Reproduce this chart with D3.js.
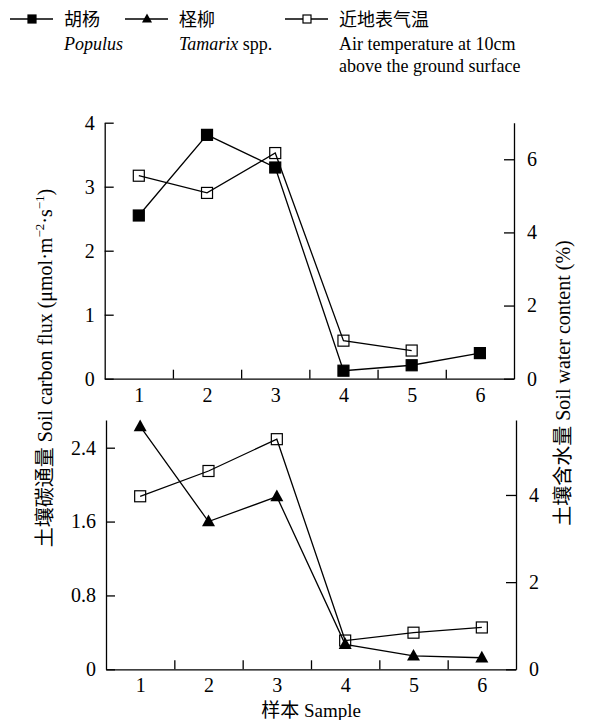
<!DOCTYPE html>
<html>
<head>
<meta charset="utf-8">
<script src="https://cdn.jsdelivr.net/npm/d3@7"></script>
<style>
body { margin: 0; background: #fff; }
text { font-family: "Liberation Serif", "Noto Sans CJK SC", serif; fill: #000; }
.axis path, .axis line { stroke: #000; stroke-width: 1.3; }
.axis text { font-size: 20px; font-family: "Liberation Serif", serif; }
</style>
</head>
<body>
<div id="chart"></div>
<script>
var width = 613;
var height = 720;

// samples 1..6
var samples = [1, 2, 3, 4, 5, 6];

// top panel
var populusFlux = [2.55, 3.81, 3.30, 0.125, 0.21, 0.40];
var topWater = [5.55, 5.08, 6.17, 1.04, 0.77];
var topLeftTicks = [0, 1, 2, 3, 4];
var topRightTicks = [0, 2, 4, 6];

// bottom panel
var tamarixFlux = [2.63, 1.60, 1.87, 0.27, 0.145, 0.125];
var bottomWater = [3.97, 4.55, 5.28, 0.66, 0.84, 0.96];
var bottomLeftTicks = [0, 0.8, 1.6, 2.4];
var bottomRightTicks = [0, 2, 4];

var minorTicks = [1.5, 2.5, 3.5, 4.5, 5.5];

var svg = d3.select("#chart")
    .append("svg")
    .attr("width", width)
    .attr("height", height);

function square(g, x, y, s, fill){
    g.append("rect")
        .attr("x", x - s/2).attr("y", y - s/2)
        .attr("width", s).attr("height", s)
        .attr("fill", fill)
        .attr("stroke", "#000")
        .attr("stroke-width", 1.2);
}
function triangle(g, x, y, s){
    var h = s * 0.9;
    g.append("path")
        .attr("d", "M" + x + "," + (y - h*0.6) + "L" + (x + s/2) + "," + (y + h*0.4) + "L" + (x - s/2) + "," + (y + h*0.4) + "Z")
        .attr("fill", "#000");
}

function panel(opt){
    var g = svg.append("g");
    var x = d3.scaleLinear().domain([0.5, 6.5]).range([opt.x0, opt.x1]);
    var yl = d3.scaleLinear().domain(opt.leftDomain).range([opt.y1, opt.y0]);
    var yr = d3.scaleLinear().domain(opt.rightDomain).range([opt.y1, opt.y0]);

    // x axis: inner ticks between samples, labels on samples
    g.append("g").attr("class", "axis")
        .attr("transform", "translate(0," + opt.y1 + ")")
        .call(d3.axisBottom(x).tickValues(minorTicks).tickSizeInner(-9).tickSizeOuter(0).tickFormat(""));
    g.append("g").attr("class", "axis")
        .attr("transform", "translate(0," + opt.y1 + ")")
        .call(d3.axisBottom(x).tickValues(samples).tickSize(0).tickPadding(9).tickFormat(d3.format("d")))
        .call(function(a){ a.select(".domain").remove(); });

    g.append("g").attr("class", "axis")
        .attr("transform", "translate(" + opt.x0 + ",0)")
        .call(d3.axisLeft(yl).tickValues(opt.leftTicks).tickSizeInner(-9).tickSizeOuter(0).tickPadding(10).tickFormat(opt.leftFormat));
    g.append("g").attr("class", "axis")
        .attr("transform", "translate(" + opt.x1 + ",0)")
        .call(d3.axisRight(yr).tickValues(opt.rightTicks).tickSizeInner(-10).tickSizeOuter(0).tickPadding(13).tickFormat(d3.format("d")));

    // flux series on left axis
    var flux = opt.flux.map(function(v, i){ return [x(samples[i]), yl(v)]; });
    g.append("path")
        .attr("d", d3.line()(flux))
        .attr("fill", "none").attr("stroke", "#000").attr("stroke-width", 1.3);

    // water content on right axis
    var water = opt.water.map(function(v, i){ return [x(samples[i]), yr(v)]; });
    g.append("path")
        .attr("d", d3.line()(water))
        .attr("fill", "none").attr("stroke", "#000").attr("stroke-width", 1.3);

    water.forEach(function(p){ square(g, p[0], p[1], 11, "none"); });
    flux.forEach(function(p){
        if (opt.marker === "square") square(g, p[0], p[1], 11, "#000");
        else triangle(g, p[0], p[1], 13);
    });
}

panel({
    x0: 104.7, x1: 514, y0: 122.7, y1: 378.7,
    leftDomain: [0, 4], rightDomain: [0, 7],
    leftTicks: topLeftTicks, rightTicks: topRightTicks,
    leftFormat: d3.format("d"),
    flux: populusFlux, water: topWater, marker: "square"
});

panel({
    x0: 106, x1: 516, y0: 420, y1: 669.3,
    leftDomain: [0, 2.7], rightDomain: [0, 5.72],
    leftTicks: bottomLeftTicks, rightTicks: bottomRightTicks,
    leftFormat: function(d){ return d === 0 ? "0" : d.toFixed(1); },
    flux: tamarixFlux, water: bottomWater, marker: "triangle"
});

// axis titles
var lt = svg.append("text")
    .attr("transform", "translate(45,368) rotate(-90)")
    .attr("text-anchor", "middle")
    .attr("dy", "0.35em")
    .style("font-size", "20px");
lt.append("tspan").text("土壤碳通量 Soil carbon flux (μmol·m");
lt.append("tspan").attr("dy", -8).style("font-size", "13px").text("−2");
lt.append("tspan").attr("dy", 8).text("·s");
lt.append("tspan").attr("dy", -8).style("font-size", "13px").text("−1");
lt.append("tspan").attr("dy", 8).text(")");

svg.append("text")
    .attr("transform", "translate(563,383) rotate(-90)")
    .attr("text-anchor", "middle")
    .attr("dy", "0.35em")
    .style("font-size", "20px")
    .text("土壤含水量 Soil water content (%)");

svg.append("text")
    .attr("x", 311).attr("y", 717)
    .attr("text-anchor", "middle")
    .style("font-size", "19px")
    .text("样本 Sample");

// legend
var legend = [
    {x: 10, marker: "filled", cn: "胡杨", en: [["Populus", true]], en2: null},
    {x: 125, marker: "triangle", cn: "柽柳", en: [["Tamarix", true], [" spp.", false]], en2: null},
    {x: 285, marker: "open", cn: "近地表气温", en: [["Air temperature at 10cm", false]], en2: "above the ground surface"}
];
var lg = svg.append("g");
legend.forEach(function(d){
    lg.append("line")
        .attr("x1", d.x).attr("x2", d.x + 43)
        .attr("y1", 19).attr("y2", 19)
        .attr("stroke", "#000").attr("stroke-width", 1.3);
    if (d.marker === "filled") square(lg, d.x + 22, 19, 8, "#000");
    else if (d.marker === "open") square(lg, d.x + 22, 19, 8, "#fff");
    else triangle(lg, d.x + 22, 19, 10);

    lg.append("text")
        .attr("x", d.x + 54).attr("y", 26)
        .style("font-size", "18px")
        .text(d.cn);
    var t = lg.append("text")
        .attr("x", d.x + 54).attr("y", 50)
        .style("font-size", "18px");
    d.en.forEach(function(p){
        t.append("tspan").style("font-style", p[1] ? "italic" : "normal").text(p[0]);
    });
    if (d.en2) {
        lg.append("text")
            .attr("x", d.x + 54).attr("y", 72)
            .style("font-size", "18px")
            .text(d.en2);
    }
});
</script>
</body>
</html>
